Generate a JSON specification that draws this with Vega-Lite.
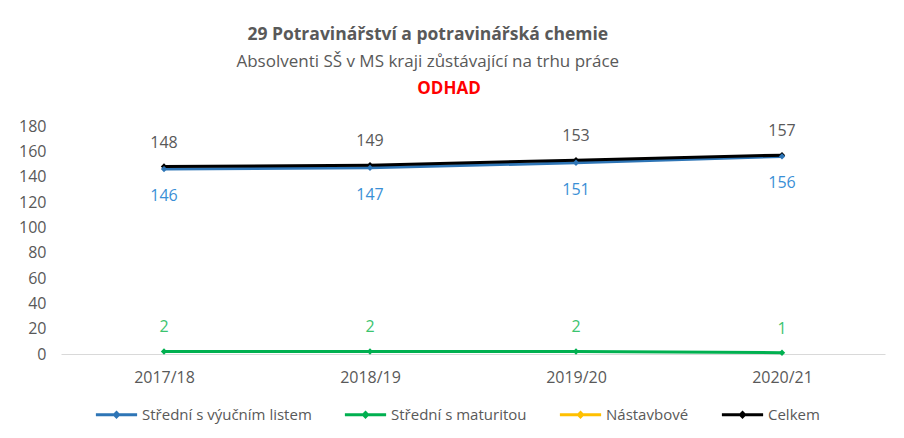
{
  "$schema": "https://vega.github.io/schema/vega-lite/v6.json",
  "background": "white",
  "padding": {"left": 18, "top": 25, "right": 10, "bottom": 10},
  "config": {
    "font": "Open Sans",
    "view": {"stroke": null}
  },
  "title": {
    "text": "29 Potravinářství a potravinářská chemie",
    "subtitle": "Absolventi SŠ v MS kraji  zůstávající na trhu práce",
    "font": "Open Sans",
    "fontSize": 17.5,
    "fontWeight": "bold",
    "color": "#595959",
    "subtitleFont": "Open Sans",
    "subtitleFontSize": 17,
    "subtitleColor": "#595959",
    "subtitlePadding": 11,
    "anchor": "middle",
    "dx": -24,
    "offset": 10
  },
  "vconcat": [
    {
      "title": {
        "text": "ODHAD",
        "color": "#ff0000",
        "font": "Open Sans",
        "fontSize": 17,
        "fontWeight": "bold",
        "anchor": "middle",
        "dx": -24,
        "offset": 20
      },
      "width": 824,
      "height": 228,
      "data": {
        "values": [
          {"year": "2017/18", "series": "Střední s výučním listem", "value": 146},
          {"year": "2018/19", "series": "Střední s výučním listem", "value": 147},
          {"year": "2019/20", "series": "Střední s výučním listem", "value": 151},
          {"year": "2020/21", "series": "Střední s výučním listem", "value": 156},
          {"year": "2017/18", "series": "Střední s maturitou", "value": 2},
          {"year": "2018/19", "series": "Střední s maturitou", "value": 2},
          {"year": "2019/20", "series": "Střední s maturitou", "value": 2},
          {"year": "2020/21", "series": "Střední s maturitou", "value": 1},
          {"year": "2017/18", "series": "Celkem", "value": 148},
          {"year": "2018/19", "series": "Celkem", "value": 149},
          {"year": "2019/20", "series": "Celkem", "value": 153},
          {"year": "2020/21", "series": "Celkem", "value": 157}
        ]
      },
      "encoding": {
        "x": {
          "field": "year",
          "type": "ordinal",
          "scale": {"type": "point", "padding": 0.5},
          "axis": {
            "title": null,
            "labelAngle": 0,
            "ticks": false,
            "domainColor": "#d9d9d9",
            "domainWidth": 1,
            "labelColor": "#595959",
            "labelFontSize": 16,
            "labelPadding": 15
          }
        },
        "y": {
          "field": "value",
          "type": "quantitative",
          "scale": {"domain": [0, 180]},
          "axis": {
            "title": null,
            "values": [0, 20, 40, 60, 80, 100, 120, 140, 160, 180],
            "grid": false,
            "domain": false,
            "ticks": false,
            "labelColor": "#595959",
            "labelFontSize": 16,
            "labelPadding": 15
          }
        }
      },
      "layer": [
        {
          "mark": {"type": "line", "strokeWidth": 3, "point": {"shape": "diamond", "size": 40, "filled": true}},
          "encoding": {
            "color": {
              "field": "series",
              "type": "nominal",
              "sort": null,
              "scale": {
                "domain": ["Střední s výučním listem", "Střední s maturitou", "Nástavbové", "Celkem"],
                "range": ["#2e75b6", "#00b050", "#ffc000", "#000000"]
              },
              "legend": {
                "title": null,
                "orient": "none",
                "direction": "horizontal",
                "legendX": 33,
                "legendY": 266,
                "symbolType": "M-1,0H1M0,-0.1L0.1,0L0,0.1L-0.1,0Z",
                "symbolSize": 1700,
                "symbolStrokeWidth": 3,
                "labelFontSize": 15,
                "labelLimit": 0,
                "labelColor": "#595959",
                "labelOffset": 3,
                "columnPadding": 26
              }
            },
            "order": {"field": "series"}
          }
        },
        {
          "transform": [{"filter": "datum.series != 'Střední s výučním listem'"}],
          "mark": {"type": "text", "dy": -24, "fontSize": 16},
          "encoding": {
            "text": {"field": "value", "type": "quantitative"},
            "color": {
              "field": "series",
              "type": "nominal",
              "scale": {
                "domain": ["Střední s výučním listem", "Střední s maturitou", "Celkem"],
                "range": ["#3a8fd6", "#3cc46f", "#595959"]
              },
              "legend": null
            }
          }
        },
        {
          "transform": [{"filter": "datum.series == 'Střední s výučním listem'"}],
          "mark": {"type": "text", "dy": 27, "fontSize": 16},
          "encoding": {
            "text": {"field": "value", "type": "quantitative"},
            "color": {
              "field": "series",
              "type": "nominal",
              "scale": {
                "domain": ["Střední s výučním listem", "Střední s maturitou", "Celkem"],
                "range": ["#3a8fd6", "#3cc46f", "#595959"]
              },
              "legend": null
            }
          }
        }
      ],
      "resolve": {"scale": {"color": "independent"}}
    }
  ]
}
